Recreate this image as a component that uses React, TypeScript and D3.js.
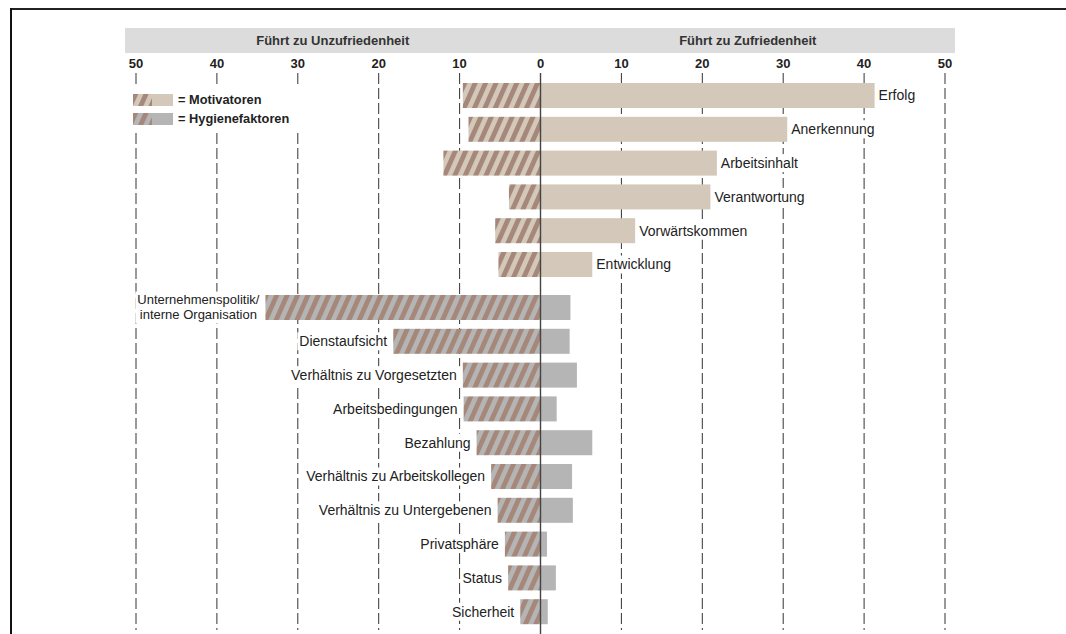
import * as d3 from "d3";
import React from "react";

const categories = [
  "Erfolg", "Anerkennung", "Arbeitsinhalt", "Verantwortung", "Vorwärtskommen", "Entwicklung",
  "Unternehmenspolitik/\ninterne Organisation", "Dienstaufsicht", "Verhältnis zu Vorgesetzten",
  "Arbeitsbedingungen", "Bezahlung", "Verhältnis zu Arbeitskollegen", "Verhältnis zu Untergebenen",
  "Privatsphäre", "Status", "Sicherheit",
];
const groups = [
  "mot", "mot", "mot", "mot", "mot", "mot",
  "hyg", "hyg", "hyg", "hyg", "hyg", "hyg", "hyg", "hyg", "hyg", "hyg",
];
// left side: führt zu Unzufriedenheit
const unzufrieden = [9.6, 8.9, 12, 3.9, 5.6, 5.2, 34, 18.2, 9.6, 9.5, 7.9, 6.1, 5.3, 4.4, 4.0, 2.5];
// right side: führt zu Zufriedenheit
const zufrieden = [41.3, 30.5, 21.8, 21, 11.7, 6.4, 3.7, 3.6, 4.5, 2.0, 6.4, 3.9, 4.0, 0.8, 1.9, 0.9];
const ticks = [-50, -40, -30, -20, -10, 0, 10, 20, 30, 40, 50];
const headers = ["Führt zu Unzufriedenheit", "Führt zu Zufriedenheit"];
const legendItems = [
  { key: "mot", label: "= Motivatoren" },
  { key: "hyg", label: "= Hygienefaktoren" },
];

const W = 1066;
const H = 634;
const FONT = "'Liberation Sans', Arial, Helvetica, sans-serif";
const fill = { mot: "#d3c8b9", hyg: "#b5b5b5" };
const stripe = "#a5887a";
const LABEL_SIZE = 14;
const MULTI_SIZE = 13;

let ctx: CanvasRenderingContext2D | null = null;
const textWidth = (t: string, font: string) => {
  if (!ctx) ctx = document.createElement("canvas").getContext("2d");
  if (!ctx) return t.length * 7;
  ctx.font = font;
  return ctx.measureText(t).width;
};

export default function App() {
  const x = d3.scaleLinear().domain([-50, 50]).range([136, 945]);
  const step = 33.8;
  const y = d3
    .scaleBand()
    .domain(categories)
    .range([83, 83 + step * (categories.length - 0.26)])
    .paddingInner(0.26)
    .paddingOuter(0);
  const gap = 9.2;
  const top = (i: number) => (y(categories[i]) as number) + (groups[i] === "hyg" ? gap : 0);
  const bh = y.bandwidth();
  const fontFor = (c: string) => `${c.includes("\n") ? MULTI_SIZE : LABEL_SIZE}px ${FONT}`;

  return (
    <div style={{ position: "fixed", left: 0, top: 0, background: "#fff" }}>
      <svg width={W} height={H} style={{ display: "block" }}>
        <defs>
          {(["mot", "hyg"] as const).map((k) => (
            <pattern
              key={k}
              id={`hatch-${k}`}
              patternUnits="userSpaceOnUse"
              width={9.5}
              height={9.5}
              patternTransform="rotate(24)"
            >
              <rect width={9.5} height={9.5} fill={fill[k]} />
              <rect width={4.8} height={9.5} fill={stripe} />
            </pattern>
          ))}
        </defs>

        {/* frame */}
        <line x1={11} x2={W} y1={9} y2={9} stroke="#222" strokeWidth={2} />
        <line x1={11} x2={11} y1={8} y2={H} stroke="#111" strokeWidth={2} />

        {/* header bar */}
        <rect x={125} y={28} width={830} height={25} fill="#dcdcdc" />
        {headers.map((h, i) => (
          <text
            key={h}
            x={i === 0 ? (125 + x(0)) / 2 : (x(0) + 955) / 2}
            y={45}
            textAnchor="middle"
            fontFamily={FONT}
            fontWeight="bold"
            fontSize={13}
            fill="#333"
          >
            {h}
          </text>
        ))}

        {/* ticks + dashed gridlines */}
        {ticks.map((t) => (
          <g key={t}>
            <text
              x={x(t)}
              y={68}
              textAnchor="middle"
              fontFamily={FONT}
              fontWeight="bold"
              fontSize={13}
              fill="#222"
            >
              {Math.abs(t)}
            </text>
            {t !== 0 && (
              <line
                x1={x(t)}
                x2={x(t)}
                y1={73}
                y2={630}
                stroke="#333"
                strokeWidth={1}
                strokeDasharray="11,4"
              />
            )}
          </g>
        ))}

        {/* white backgrounds behind labels */}
        {categories.map((c, i) => {
          const lines = c.split("\n");
          const w = d3.max(lines, (l) => textWidth(l, fontFor(c))) as number;
          const hh = lines.length > 1 ? 32 : 18;
          const cy = top(i) + bh / 2;
          const bx = groups[i] === "mot" ? x(zufrieden[i]) + 2 : x(-unzufrieden[i]) - 8 - w;
          return <rect key={c} x={bx} y={cy - hh / 2} width={w + 6} height={hh} fill="#fff" />;
        })}

        {/* legend */}
        <rect x={127} y={86} width={180} height={47} fill="#fff" />
        {legendItems.map((l, i) => (
          <g key={l.key} transform={`translate(133, ${94 + i * 19})`}>
            <rect x={0} y={0} width={40} height={12} fill={fill[l.key]} />
            <rect x={0} y={0} width={19} height={12} fill={`url(#hatch-${l.key})`} />
            <text x={45} y={10} fontFamily={FONT} fontWeight="bold" fontSize={12.8} fill="#222">
              {l.label}
            </text>
          </g>
        ))}

        {/* bars */}
        {categories.map((c, i) => (
          <g key={c}>
            <rect
              x={x(-unzufrieden[i])}
              y={top(i)}
              width={x(0) - x(-unzufrieden[i])}
              height={bh}
              fill={`url(#hatch-${groups[i]})`}
            />
            <rect
              x={x(0)}
              y={top(i)}
              width={x(zufrieden[i]) - x(0)}
              height={bh}
              fill={fill[groups[i]]}
            />
          </g>
        ))}

        {/* zero line */}
        <line x1={x(0)} x2={x(0)} y1={73} y2={H} stroke="#444" strokeWidth={1.4} />

        {/* category labels */}
        {categories.map((c, i) => {
          const cy = top(i) + bh / 2;
          const lines = c.split("\n");
          if (groups[i] === "mot") {
            return (
              <text key={c} x={x(zufrieden[i]) + 4} y={cy} dy="0.35em" fontFamily={FONT} fontSize={LABEL_SIZE} fill="#222">
                {c}
              </text>
            );
          }
          const w = d3.max(lines, (l) => textWidth(l, fontFor(c))) as number;
          const right = x(-unzufrieden[i]) - 6;
          if (lines.length > 1) {
            return (
              <g key={c}>
                {lines.map((l, j) => (
                  <text
                    key={l}
                    x={right - w / 2}
                    y={cy - 4 + j * 15}
                    textAnchor="middle"
                    fontFamily={FONT}
                    fontSize={MULTI_SIZE}
                    fill="#222"
                  >
                    {l}
                  </text>
                ))}
              </g>
            );
          }
          return (
            <text key={c} x={right} y={cy} dy="0.35em" textAnchor="end" fontFamily={FONT} fontSize={LABEL_SIZE} fill="#222">
              {c}
            </text>
          );
        })}
      </svg>
    </div>
  );
}
